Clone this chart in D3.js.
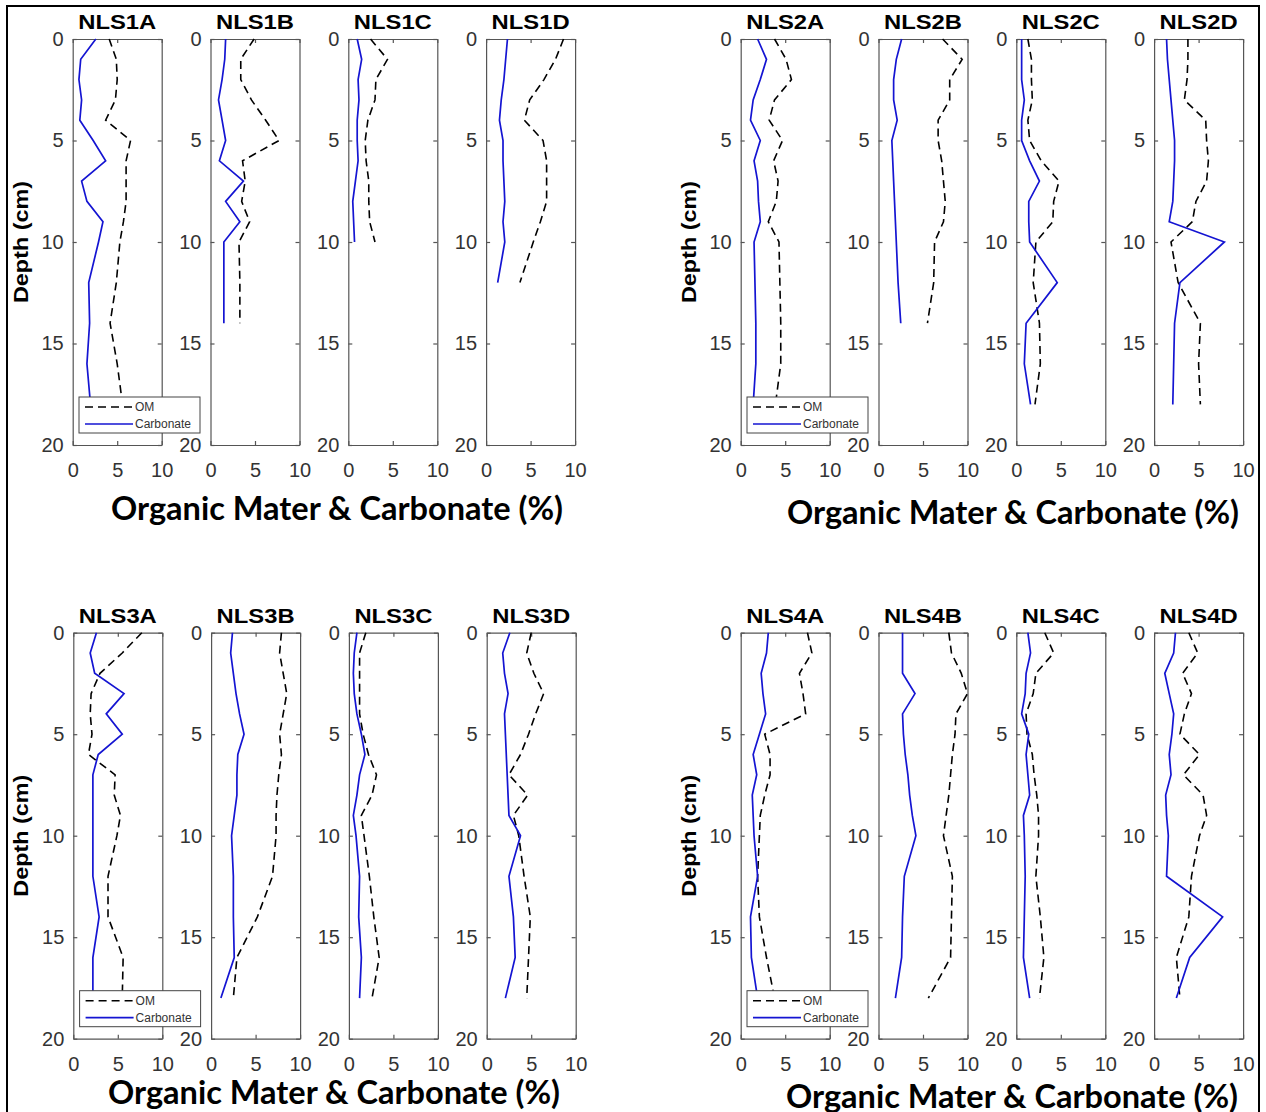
<!DOCTYPE html>
<html>
<head>
<meta charset="utf-8">
<script src="https://cdn.jsdelivr.net/npm/d3@7"></script>
<style>
  body { margin: 0; background: #fff; }
  svg { display: block; }
</style>
</head>
<body>
<svg></svg>
<script>
// depth steps (cm) used by the cores
let depth18 = [0, 1, 2, 3, 4, 5, 6, 7, 8, 9, 10, 12, 14, 16, 18];
let depth14 = [0, 1, 2, 3, 4, 5, 6, 7, 8, 9, 10, 12, 14];
let depth12 = [0, 1, 2, 3, 4, 5, 6, 7, 8, 9, 10, 12];
let depth10 = [0, 1, 2, 3, 4, 5, 6, 7, 8, 9, 10];

let xTicks = [0, 5, 10];
let yTicks = [0, 5, 10, 15, 20];
let seriesNames = ["OM", "Carbonate"];
let xTitle = "Organic Mater & Carbonate (%)";
let yTitle = "Depth (cm)";

// organic matter (%) and carbonate (%) per core
let omNLS1A = [4.1, 4.9, 5.0, 4.8, 3.7, 6.5, 6.0, 6.0, 6.0, 5.7, 5.3, 4.9, 4.2, 5.0, 5.6];
let carbNLS1A = [2.6, 0.9, 0.7, 1.0, 0.8, 2.3, 3.7, 1.0, 1.6, 3.4, 2.9, 1.8, 1.9, 1.6, 2.0];
let omNLS1B = [4.9, 3.4, 3.4, 4.6, 6.2, 7.7, 3.6, 3.9, 3.5, 4.4, 3.2, 3.3, 3.3];
let carbNLS1B = [1.7, 1.6, 1.3, 0.9, 1.3, 1.7, 1.0, 3.7, 1.7, 3.3, 1.5, 1.5, 1.5];
let omNLS1C = [2.5, 4.4, 3.1, 3.0, 2.2, 1.9, 2.0, 2.3, 2.3, 2.4, 3.0];
let carbNLS1C = [1.0, 1.5, 1.1, 1.2, 1.0, 1.0, 1.1, 0.8, 0.5, 0.6, 0.7];
let omNLS1D = [8.7, 7.8, 6.5, 4.9, 4.3, 6.4, 6.8, 6.8, 6.8, 6.1, 5.3, 3.8];
let carbNLS1D = [2.4, 2.2, 2.0, 1.7, 1.5, 1.9, 1.9, 2.0, 2.1, 1.9, 2.1, 1.3];

let omNLS2A = [3.8, 5.1, 5.7, 3.8, 3.2, 4.7, 3.7, 4.2, 4.0, 3.1, 4.3, 4.4, 4.5, 4.5, 3.9];
let carbNLS2A = [1.9, 2.9, 2.2, 1.4, 1.1, 2.2, 1.5, 1.9, 2.0, 2.2, 1.5, 1.6, 1.7, 1.7, 1.4];
let omNLS2B = [7.2, 9.4, 8.0, 8.0, 6.7, 6.7, 7.1, 7.3, 7.5, 7.3, 6.3, 6.2, 5.5];
let carbNLS2B = [2.6, 2.0, 1.7, 1.7, 2.1, 1.5, 1.6, 1.7, 1.8, 1.9, 2.0, 2.2, 2.5];
let omNLS2C = [1.3, 1.7, 1.7, 1.8, 1.3, 1.5, 2.8, 4.8, 4.2, 4.1, 2.2, 1.9, 2.6, 2.7, 2.1];
let carbNLS2C = [0.6, 0.6, 0.6, 0.9, 0.6, 0.6, 1.5, 2.6, 1.4, 1.4, 1.5, 4.6, 1.1, 0.9, 1.6];
let omNLS2D = [3.8, 3.8, 3.7, 3.4, 5.8, 5.9, 6.1, 5.9, 4.7, 4.3, 1.9, 2.7, 5.2, 5.0, 5.2];
let carbNLS2D = [1.4, 1.5, 1.7, 1.9, 2.1, 2.3, 2.3, 2.2, 2.1, 1.7, 7.9, 2.9, 2.3, 2.2, 2.1];

let omNLS3A = [7.7, 5.5, 3.0, 2.0, 1.9, 2.1, 1.7, 4.7, 4.6, 5.3, 4.9, 3.9, 3.9, 5.6, 5.5];
let carbNLS3A = [2.6, 1.9, 2.4, 5.7, 3.7, 5.5, 2.8, 2.2, 2.2, 2.2, 2.2, 2.2, 2.9, 2.2, 2.2];
let omNLS3B = [7.9, 7.7, 8.1, 8.5, 8.1, 7.7, 7.9, 7.6, 7.4, 7.3, 7.3, 6.9, 5.2, 2.9, 2.5];
let carbNLS3B = [2.4, 2.2, 2.5, 2.8, 3.2, 3.7, 3.0, 2.9, 2.9, 2.6, 2.3, 2.5, 2.5, 2.6, 1.1];
let omNLS3C = [1.9, 1.2, 1.2, 1.2, 1.2, 1.6, 2.2, 3.1, 2.6, 1.4, 1.7, 2.3, 2.8, 3.4, 2.6];
let carbNLS3C = [0.9, 0.6, 0.5, 0.6, 0.9, 1.4, 1.8, 1.2, 0.9, 0.5, 0.8, 1.2, 1.1, 1.4, 1.2];
let omNLS3D = [5.0, 4.5, 5.3, 6.4, 5.5, 4.7, 3.8, 2.5, 4.6, 3.0, 3.6, 4.2, 4.9, 4.7, 4.5];
let carbNLS3D = [2.6, 1.8, 2.0, 2.4, 2.0, 2.1, 2.2, 2.3, 2.4, 2.5, 3.8, 2.5, 3.0, 3.2, 2.1];

let omNLS4A = [7.5, 8.0, 6.6, 7.0, 7.3, 2.7, 3.3, 3.3, 2.7, 2.2, 2.1, 1.9, 2.1, 2.9, 3.8];
let carbNLS4A = [3.1, 2.9, 2.3, 2.5, 2.8, 2.1, 1.4, 1.8, 1.3, 1.4, 1.5, 1.9, 1.1, 1.2, 1.9];
let omNLS4B = [7.9, 8.2, 9.3, 10.0, 8.7, 8.6, 8.3, 8.1, 7.9, 7.6, 7.3, 8.3, 8.2, 8.1, 5.6];
let carbNLS4B = [2.7, 2.7, 2.7, 4.1, 2.7, 2.8, 3.0, 3.3, 3.5, 3.8, 4.2, 2.9, 2.7, 2.6, 1.9];
let omNLS4C = [3.2, 4.2, 2.2, 1.9, 1.1, 1.2, 1.8, 2.0, 2.3, 2.5, 2.5, 2.2, 2.7, 3.1, 2.6];
let carbNLS4C = [1.3, 1.6, 1.1, 1.0, 0.6, 1.4, 1.1, 1.3, 1.5, 0.8, 0.9, 1.0, 0.9, 0.8, 1.5];
let omNLS4D = [3.9, 4.9, 3.2, 4.2, 3.4, 2.9, 5.1, 3.3, 5.5, 5.9, 5.1, 4.2, 3.9, 2.5, 2.9];
let carbNLS4D = [2.4, 2.2, 1.2, 1.7, 2.2, 2.0, 1.7, 1.9, 1.3, 1.4, 1.6, 1.4, 7.7, 4.0, 2.5];

// one row per group of four cores
let cores = [
    [["NLS1A", depth18, omNLS1A, carbNLS1A], ["NLS1B", depth14, omNLS1B, carbNLS1B],
     ["NLS1C", depth10, omNLS1C, carbNLS1C], ["NLS1D", depth12, omNLS1D, carbNLS1D]],
    [["NLS2A", depth18, omNLS2A, carbNLS2A], ["NLS2B", depth14, omNLS2B, carbNLS2B],
     ["NLS2C", depth18, omNLS2C, carbNLS2C], ["NLS2D", depth18, omNLS2D, carbNLS2D]],
    [["NLS3A", depth18, omNLS3A, carbNLS3A], ["NLS3B", depth18, omNLS3B, carbNLS3B],
     ["NLS3C", depth18, omNLS3C, carbNLS3C], ["NLS3D", depth18, omNLS3D, carbNLS3D]],
    [["NLS4A", depth18, omNLS4A, carbNLS4A], ["NLS4B", depth18, omNLS4B, carbNLS4B],
     ["NLS4C", depth18, omNLS4C, carbNLS4C], ["NLS4D", depth18, omNLS4D, carbNLS4D]]
];

let width = 1266;
let height = 1112;
let panelW = 89;
let panelH = 406;
let panelStep = 137.8;
let groupLeft = [72.7, 740.7, 73.3, 740.7];
let groupTop = [39, 39, 632.7, 632.7];
let titlePos = [[337, 520], [1013, 524], [334, 1104], [1012, 1108]];
let axisColor = "#555";
let tickFont = "'Liberation Sans', Arial, sans-serif";
let blue = "#1414d2";

let svg = d3.select("svg")
    .attr("width", width)
    .attr("height", height);

// outer frame
svg.append("rect")
    .attr("x", 7)
    .attr("y", 6)
    .attr("width", 1252)
    .attr("height", 1130)
    .attr("fill", "none")
    .attr("stroke", "#000")
    .attr("stroke-width", 2);

let xScale = d3.scaleLinear().domain([0, 10]).range([0, panelW]);
let yScale = d3.scaleLinear().domain([0, 20]).range([0, panelH]);

let line = d3.line()
    .x(d => xScale(d.v))
    .y(d => yScale(d.depth));

cores.forEach((group, gi) => {
    group.forEach((core, pi) => {
        let [name, depths, om, carb] = core;
        let g = svg.append("g")
            .attr("transform", `translate(${groupLeft[gi] + pi * panelStep}, ${groupTop[gi]})`);

        g.append("rect")
            .attr("width", panelW)
            .attr("height", panelH)
            .attr("fill", "#fff");

        g.append("g")
            .call(d3.axisLeft(yScale).tickValues(yTicks).tickSize(-4).tickSizeOuter(0).tickPadding(9));
        g.append("g")
            .attr("transform", `translate(${panelW}, 0)`)
            .call(d3.axisRight(yScale).tickValues(yTicks).tickSize(-4).tickSizeOuter(0).tickFormat(""));
        g.append("g")
            .call(d3.axisTop(xScale).tickValues(xTicks).tickSize(-4).tickSizeOuter(0).tickFormat(""));
        g.append("g")
            .attr("transform", `translate(0, ${panelH})`)
            .call(d3.axisBottom(xScale).tickValues(xTicks).tickSize(-4).tickSizeOuter(0).tickPadding(18));

        g.selectAll(".domain, .tick line")
            .attr("stroke", axisColor)
            .attr("stroke-width", 1.2);
        g.selectAll(".tick text")
            .attr("fill", "#333")
            .style("font-family", tickFont)
            .style("font-size", "20px");

        g.append("path")
            .datum(depths.map((d, i) => ({ depth: d, v: om[i] })))
            .attr("d", line)
            .attr("fill", "none")
            .attr("stroke", "#000")
            .attr("stroke-width", 1.6)
            .attr("stroke-dasharray", "8,5");

        g.append("path")
            .datum(depths.map((d, i) => ({ depth: d, v: carb[i] })))
            .attr("d", line)
            .attr("fill", "none")
            .attr("stroke", blue)
            .attr("stroke-width", 1.7);

        g.append("text")
            .attr("x", panelW / 2)
            .attr("y", -10)
            .attr("text-anchor", "middle")
            .attr("textLength", 78)
            .attr("lengthAdjust", "spacingAndGlyphs")
            .style("font-family", tickFont)
            .style("font-weight", "bold")
            .style("font-size", "20px")
            .attr("fill", "#000")
            .text(name);

        if (pi === 0) {
            // legend
            let lg = g.append("g").attr("transform", "translate(6.3, 358)");
            lg.append("rect")
                .attr("width", 121)
                .attr("height", 36)
                .attr("fill", "#fff")
                .attr("stroke", "#444")
                .attr("stroke-width", 1);
            lg.append("line")
                .attr("x1", 6).attr("x2", 53)
                .attr("y1", 10).attr("y2", 10)
                .attr("stroke", "#000")
                .attr("stroke-width", 1.6)
                .attr("stroke-dasharray", "8,5");
            lg.append("line")
                .attr("x1", 6).attr("x2", 54)
                .attr("y1", 27).attr("y2", 27)
                .attr("stroke", blue)
                .attr("stroke-width", 1.7);
            lg.selectAll("text.lab")
                .data(seriesNames)
                .enter()
                .append("text")
                .attr("class", "lab")
                .attr("x", 56)
                .attr("y", (d, i) => 14 + i * 17)
                .style("font-family", tickFont)
                .style("font-size", "12px")
                .attr("fill", "#333")
                .text(d => d);

            // depth label
            g.append("text")
                .attr("transform", `translate(${-groupLeft[gi] + (gi % 2 === 0 ? 28 : 696 - 740.7 + groupLeft[gi])}, ${panelH / 2}) rotate(-90)`)
                .attr("text-anchor", "middle")
                .attr("textLength", 122)
                .attr("lengthAdjust", "spacingAndGlyphs")
                .style("font-family", tickFont)
                .style("font-weight", "bold")
                .style("font-size", "20px")
                .attr("fill", "#000")
                .text(yTitle);
        }
    });

    svg.append("text")
        .attr("x", titlePos[gi][0])
        .attr("y", titlePos[gi][1])
        .attr("text-anchor", "middle")
        .attr("textLength", 452)
        .attr("lengthAdjust", "spacingAndGlyphs")
        .style("font-family", "Lato, 'Open Sans', sans-serif")
        .style("font-weight", "bold")
        .style("font-size", "33px")
        .attr("fill", "#000")
        .text(xTitle);
});
</script>
</body>
</html>
